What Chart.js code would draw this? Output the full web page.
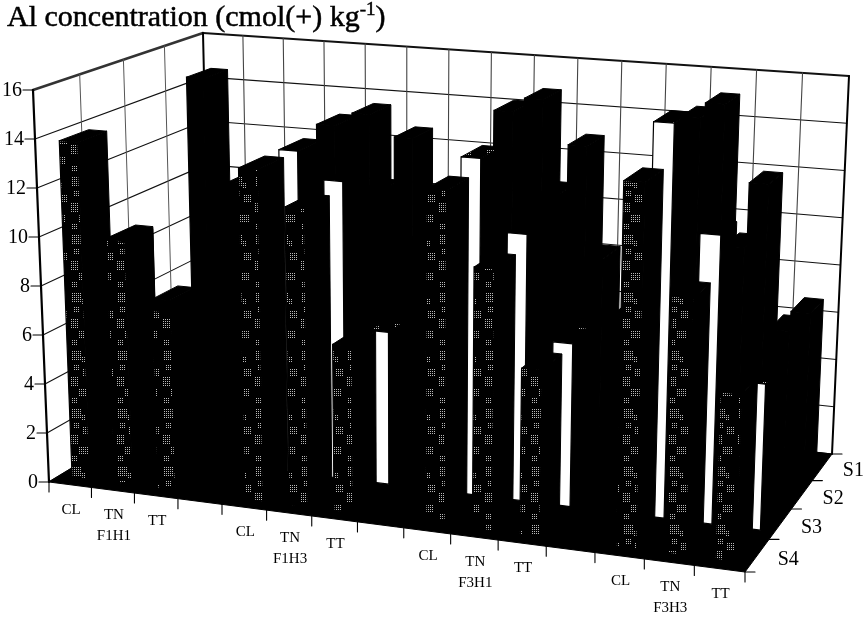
<!DOCTYPE html>
<html>
<head>
<meta charset="utf-8">
<script src="https://cdn.jsdelivr.net/npm/chart.js@4/dist/chart.umd.js"></script>
<style>
  body { margin: 0; background: #fff; }
  #wrap { position: relative; width: 865px; height: 617px; }
  #title { position: absolute; left: 7px; top: -1px; font: 30px "Liberation Serif", serif; color: #000; -webkit-text-stroke: 0.5px #000; white-space: nowrap; }
  #title sup { font-size: 19px; line-height: 0; }
</style>
</head>
<body>
<div id="wrap">
  <div id="title">Al concentration (cmol(+) kg<sup>-1</sup>)</div>
  <canvas id="chart" width="865" height="617"></canvas>
</div>
<script>
// Data, null = spacer between treatment groups
const categories = ['CL', 'TN', 'TT', '', 'CL', 'TN', 'TT', '', 'CL', 'TN', 'TT', '', 'CL', 'TN', 'TT'];
const groupLabels = ['', 'F1H1', '', '', '', 'F1H3', '', '', '', 'F3H1', '', '', '', 'F3H3', ''];
const depthLabels = ['S1', 'S2', 'S3', 'S4'];
const valueTicks = [0, 2, 4, 6, 8, 10, 12, 14, 16];

const s1Values = [14.5, 10, 8, null, 13.45, 12.55, 9, null, 14.65, 12.8, 5.6, null, 15, 11.8, 6.6];
const s2Values = [5.5, 8, 7, null, 13.65, 11, 9, null, 14.8, 11.5, 9, null, 15.1, 10, 6.8];
const s3Values = [9, 5.5, 0, null, 13.3, 12.2, 6.2, null, 13.6, 10.7, 6.5, null, 15.6, 11.35, 5.7];
const s4Values = [13.8, 9.9, 7.2, null, 13.3, 11.9, 6.6, null, 13.1, 10.2, 6.45, null, 14.05, 9.8, 6.35];

// Where the axis box lands on screen (front-left, front-right, back-right, back-left)
const floorCorners = [[49, 482], [745, 572], [832, 454], [211, 384]];
const roofCorners = [[33, 90], [759, 145], [849, 76], [203, 33]];

const serif = '"Liberation Serif", serif';

// unit square -> quad, perspective correct
function quadMap(q) {
  const [p0, p1, p2, p3] = q;
  const dx1 = p1[0] - p2[0], dx2 = p3[0] - p2[0], sx = p0[0] - p1[0] + p2[0] - p3[0];
  const dy1 = p1[1] - p2[1], dy2 = p3[1] - p2[1], sy = p0[1] - p1[1] + p2[1] - p3[1];
  const den = dx1 * dy2 - dx2 * dy1;
  const g = (sx * dy2 - dx2 * sy) / den;
  const h = (dx1 * sy - sx * dy1) / den;
  const a = p1[0] - p0[0] + g * p1[0], b = p3[0] - p0[0] + h * p3[0];
  const d = p1[1] - p0[1] + g * p1[1], e = p3[1] - p0[1] + h * p3[1];
  return (u, v) => {
    const w = g * u + h * v + 1;
    return [(a * u + b * v + p0[0]) / w, (d * u + e * v + p0[1]) / w];
  };
}
const floorMap = quadMap(floorCorners);
const roofMap = quadMap(roofCorners);

function project(u, v, z) {
  const f = floorMap(u, v), r = roofMap(u, v);
  return [f[0] + (r[0] - f[0]) * z, f[1] + (r[1] - f[1]) * z];
}

function poly(ctx, pts, fill, stroke, lw) {
  ctx.beginPath();
  pts.forEach((p, i) => i ? ctx.lineTo(p[0], p[1]) : ctx.moveTo(p[0], p[1]));
  ctx.closePath();
  if (fill) { ctx.fillStyle = fill; ctx.fill(); }
  if (stroke) { ctx.strokeStyle = stroke; ctx.lineWidth = lw || 1; ctx.stroke(); }
}

function segment(ctx, a, b, lw, color) {
  ctx.beginPath();
  ctx.moveTo(a[0], a[1]);
  ctx.lineTo(b[0], b[1]);
  ctx.lineWidth = lw;
  ctx.strokeStyle = color || '#000';
  ctx.stroke();
}

// Scanned halftone of the S4 front faces: black with patches of fine dots
function halftone(ctx, blotches) {
  const tile = document.createElement('canvas');
  tile.width = 23;
  tile.height = 58;
  const t = tile.getContext('2d');
  t.fillStyle = '#000';
  t.fillRect(0, 0, 23, 58);
  t.fillStyle = '#b8b8b8';
  blotches.forEach(b => {
    for (let y = b[1]; y < b[1] + b[3]; y += 2) {
      for (let x = b[0]; x < b[0] + b[2]; x += 2) t.fillRect(x, y, 1, 1);
    }
  });
  return ctx.createPattern(tile, 'repeat');
}
const frontBlotches = [[3, 3, 9, 9], [13, 9, 4, 6], [5, 17, 5, 5], [14, 21, 7, 8], [2, 29, 7, 10], [10, 41, 9, 7], [3, 50, 6, 5]];
const topBlotches = [[6, 6, 8, 8], [4, 34, 7, 6]];

// Bars stay real Chart.js bar elements, only the drawing goes through the box projection
class Bar3DController extends Chart.BarController {
  draw() {
    const chart = this.chart;
    const ctx = chart.ctx;
    const area = chart.chartArea;
    const depth = chart.scales.yDepth;
    const ds = this.getDataset();
    const rowStep = 1 / depthLabels.length;
    const mid = (area.bottom - depth.getPixelForValue(ds.row)) / area.height + ds.rowShift;
    const v0 = mid - rowStep * ds.barDepth / 2;
    const v1 = mid + rowStep * ds.barDepth / 2;
    const frontFill = ds.dithered ? halftone(ctx, frontBlotches) : ds.backgroundColor;
    const topFill = ds.topDithered ? halftone(ctx, topBlotches) : '#000';
    this._cachedMeta.data.forEach((el, i) => {
      if (!ds.data[i]) return;
      const u0 = (el.x - el.width / 2 - area.left) / area.width;
      const u1 = (el.x + el.width / 2 - area.left) / area.width;
      const z = (area.bottom - el.y) / area.height;
      const side = [project(u1, v0, 0), project(u1, v1, 0), project(u1, v1, z), project(u1, v0, z)];
      const top = [project(u0, v0, z), project(u1, v0, z), project(u1, v1, z), project(u0, v1, z)];
      const front = [project(u0, v0, 0), project(u1, v0, 0), project(u1, v0, z), project(u0, v0, z)];
      poly(ctx, side, '#000', '#000');
      poly(ctx, top, topFill, '#000');
      poly(ctx, front, frontFill, '#000', 1.2);
    });
  }
}
Bar3DController.id = 'bar3d';
Bar3DController.defaults = Chart.BarController.defaults;
Bar3DController.overrides = Chart.BarController.overrides;
Chart.register(Bar3DController);

// Walls, floor, grid, ticks and labels of the box
const boxPlugin = {
  id: 'box',
  beforeDatasetsDraw(chart) {
    const ctx = chart.ctx;
    const yScale = chart.scales.y;
    const xScale = chart.scales.x;
    const area = chart.chartArea;
    const zOf = t => (area.bottom - yScale.getPixelForValue(t)) / area.height;
    const uEdge = i => i / categories.length;

    ctx.save();
    ctx.lineCap = 'round';
    // grid on the two walls
    valueTicks.forEach(t => {
      const z = zOf(t);
      segment(ctx, project(0, 0, z), project(0, 1, z), t === 16 ? 2.5 : 1.1, t === 16 ? '#333' : '#111');
      segment(ctx, project(0, 1, z), project(1, 1, z), t === 16 ? 2 : 1.1, '#111');
    });
    for (let k = 1; k < depthLabels.length; k++) {
      const v = k / depthLabels.length;
      segment(ctx, project(0, v, 0), project(0, v, 1), 1, '#555');
    }
    for (let i = 1; i < categories.length; i++) {
      segment(ctx, project(uEdge(i), 1, 0), project(uEdge(i), 1, 1), 1.1, '#444');
    }
    segment(ctx, project(0, 0, 0), project(0, 0, 1), 2.2);
    segment(ctx, project(0, 1, 0), project(0, 1, 1), 2);
    segment(ctx, project(1, 1, 0), project(1, 1, 1), 2);

    // black floor
    poly(ctx, floorCorners, '#000', '#000');

    // ticks and labels
    ctx.fillStyle = '#000';
    ctx.textBaseline = 'middle';
    ctx.font = '20px ' + serif;
    ctx.textAlign = 'right';
    valueTicks.forEach(t => {
      const p = project(0, 0, zOf(t));
      segment(ctx, [p[0] - 10, p[1]], p, 1.1);
      ctx.fillText(String(t), p[0] - 11, p[1] + 1);
    });

    ctx.textAlign = 'center';
    ctx.font = '15px ' + serif;
    for (let i = 0; i <= categories.length; i++) {
      const p = project(uEdge(i), 0, 0);
      segment(ctx, p, [p[0], p[1] + 10], 1.1);
    }
    categories.forEach((c, i) => {
      if (!c) return;
      const p = project((xScale.getPixelForValue(i) - area.left) / area.width, 0, 0);
      ctx.fillText(c, p[0] + 1, p[1] + 25);
      if (groupLabels[i]) ctx.fillText(groupLabels[i], p[0] + 1, p[1] + 46);
    });

    ctx.font = '20px ' + serif;
    for (let k = 0; k <= depthLabels.length; k++) {
      const p = project(1, k / depthLabels.length, 0);
      segment(ctx, p, [p[0] + 10, p[1]], 1.1);
    }
    const depth = chart.scales.yDepth;
    depthLabels.forEach((s, k) => {
      const v = (area.bottom - depth.getPixelForValue(k)) / area.height;
      const p = project(1, v, 0);
      ctx.fillText(s, p[0] + 31, p[1] + 4);
    });
    ctx.restore();
  }
};

const seriesCommon = { type: 'bar3d', barPercentage: 0.42, categoryPercentage: 1, grouped: false, barDepth: 0.64, rowShift: 0.015 };

new Chart(document.getElementById('chart'), {
  type: 'bar3d',
  data: {
    labels: categories,
    // front row first: Chart.js paints the last dataset first
    datasets: [
      { ...seriesCommon, label: 'S4', row: 3, data: s4Values, backgroundColor: '#000', dithered: true },
      { ...seriesCommon, label: 'S3', row: 2, data: s3Values, backgroundColor: '#fff', topDithered: true },
      { ...seriesCommon, label: 'S2', row: 1, data: s2Values, backgroundColor: '#000' },
      { ...seriesCommon, label: 'S1', row: 0, data: s1Values, backgroundColor: '#000' }
    ]
  },
  options: {
    responsive: false,
    animation: false,
    layout: { padding: 0 },
    plugins: { legend: { display: false }, tooltip: { enabled: false } },
    scales: {
      x: { type: 'category', display: false, offset: true },
      y: { type: 'linear', display: false, min: 0, max: 16 },
      yDepth: { type: 'category', display: false, labels: depthLabels, offset: true }
    }
  },
  plugins: [boxPlugin]
});
</script>
</body>
</html>
